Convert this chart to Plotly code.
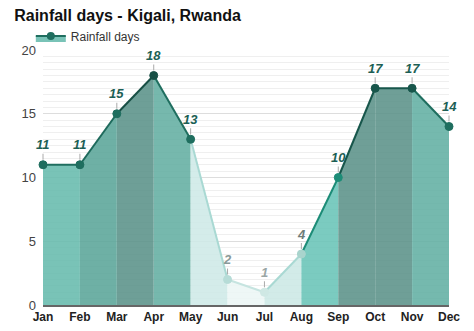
import plotly.graph_objects as go

# Monthly rainfall days in Kigali
months = ["Jan", "Feb", "Mar", "Apr", "May", "Jun", "Jul", "Aug", "Sep", "Oct", "Nov", "Dec"]
rain_days = [11, 11, 15, 18, 13, 2, 1, 4, 10, 17, 17, 14]

# Shading of each month-to-month band (11 bands)
band_colors = ["#79c3b7", "#6eb0a5", "#6e9f97", "#76b8ad", "#d4ecea", "#eef7f6",
               "#d2ebe8", "#7bcbc0", "#6f9f97", "#6f9f97", "#75b9ae"]
band_lines = ["#1f6e5f", "#1e6a5c", "#184f45", "#1f6e5f", "#a9d9d3", "#c6e4e0",
              "#a9d9d3", "#1c8c77", "#17564b", "#17564b", "#1f6e5f"]
point_colors = ["#1f6e5f", "#1f6e5f", "#1f6e5f", "#184f45", "#1f6e5f", "#b6dcd7",
                "#cfe8e4", "#a9d4cd", "#1c8c77", "#17564b", "#17564b", "#1f6e5f"]
label_colors = ["#1d5f55"] * 5 + ["#8a9a98", "#9aa6a5", "#6e7c7a"] + ["#1d5f55"] * 4

ALPHA = 0.88
FONT = "Liberation Sans, Arial, sans-serif"


def see_through(hex_color, alpha=ALPHA):
    """Fill colour that renders as hex_color over white, letting grid lines show."""
    h = hex_color.lstrip("#")
    rgb = [int(h[i:i + 2], 16) for i in (0, 2, 4)]
    comp = [max(0, min(255, round((c - (1 - alpha) * 255) / alpha))) for c in rgb]
    return f"rgba({comp[0]},{comp[1]},{comp[2]},{alpha})"


fig = go.Figure()

for i in range(len(months) - 1):
    fig.add_trace(go.Scatter(
        x=months[i:i + 2], y=rain_days[i:i + 2],
        mode="lines+markers" if i == 0 else "lines",
        fill="tozeroy",
        fillcolor=see_through(band_colors[i]),
        line=dict(color=band_lines[i], width=2),
        marker=dict(size=8, color=band_lines[i]),
        name="Rainfall days",
        showlegend=(i == 0),
        hoverinfo="skip",
    ))

fig.add_trace(go.Scatter(
    x=months, y=rain_days, mode="markers",
    marker=dict(size=8, color=point_colors, line=dict(width=1, color=point_colors)),
    showlegend=False, cliponaxis=False,
    hovertemplate="%{x}: %{y} days<extra></extra>",
))

for m, v, c in zip(months, rain_days, label_colors):
    fig.add_annotation(
        x=m, y=v, text=f"<b><i>{v}</i></b>",
        showarrow=True, ax=0, ay=-20, arrowhead=0, arrowwidth=1,
        arrowcolor="#aaaaaa", standoff=5,
        font=dict(size=13, color=c, family=FONT),
    )

fig.update_layout(
    width=474, height=331,
    margin=dict(l=43, r=25, t=50, b=26, autoexpand=False),
    paper_bgcolor="white", plot_bgcolor="white",
    font=dict(family=FONT, color="#333333"),
    title=dict(text="<b>Rainfall days - Kigali, Rwanda</b>",
               x=0.03, xanchor="left", y=0.952, yanchor="middle",
               font=dict(size=16, color="#111111")),
    legend=dict(x=-0.03, y=1.055, xanchor="left", yanchor="middle",
                orientation="h", font=dict(size=12, color="#333333"),
                bgcolor="rgba(0,0,0,0)", itemwidth=30),
    xaxis=dict(
        type="category", range=[0, len(months) - 1], automargin=False,
        showgrid=False, showline=True, linecolor="#666666", linewidth=2,
        ticks="", tickfont=dict(size=12, color="#222222", family=FONT),
        tickprefix="<b>", ticksuffix="</b>",
    ),
    yaxis=dict(
        range=[0, 20], tickvals=[0, 5, 10, 15, 20], automargin=False,
        showgrid=True, gridcolor="#dddddd", gridwidth=1,
        zeroline=False, showline=False, ticks="",
        tickfont=dict(size=13, color="#444444"), ticklabelstandoff=6,
        minor=dict(dtick=0.5, showgrid=True, gridcolor="#efefef", gridwidth=1),
    ),
)

fig.write_html("out.html")
